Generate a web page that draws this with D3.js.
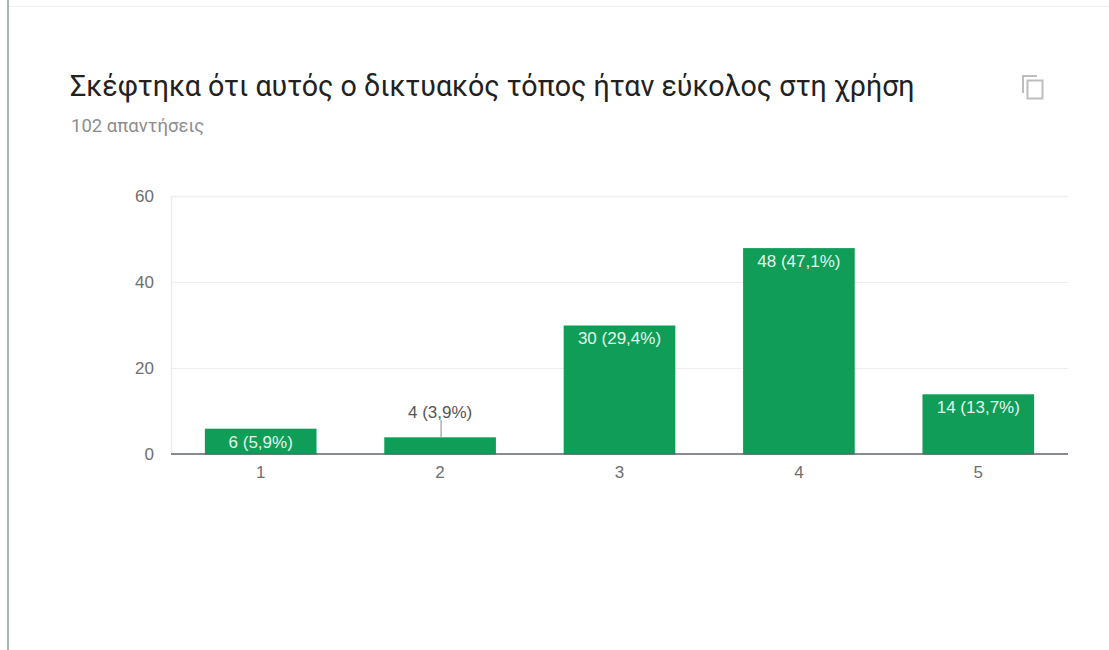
<!DOCTYPE html>
<html><head><meta charset="utf-8">
<script src="https://cdn.jsdelivr.net/npm/d3@7/dist/d3.min.js"></script>
<style>html,body{margin:0;padding:0;background:#fff;overflow:hidden}svg{display:block}text{font-family:Roboto,Arial,sans-serif}</style>
</head><body><svg id="c" width="1109" height="650"></svg>
<script>
const categories = ["1","2","3","4","5"];
const counts = [6,4,30,48,14];
const labels = ["6 (5,9%)","4 (3,9%)","30 (29,4%)","48 (47,1%)","14 (13,7%)"];
const yTicks = [0,20,40,60];
const titleText = "Σκέφτηκα ότι αυτός ο δικτυακός τόπος ήταν εύκολος στη χρήση";
const subtitleText = "102 απαντήσεις";

const svg = d3.select("#c");
const x = d3.scaleBand().domain(categories).range([171,1068]).paddingInner(0.3777).paddingOuter(0.1888);
const y = d3.scaleLinear().domain([0,60]).range([454.5,196.5]);

// card edges
svg.append("rect").attr("x",7).attr("y",0).attr("width",2).attr("height",650).attr("fill","#a9b5b2");
svg.append("rect").attr("x",9).attr("y",6).attr("width",1100).attr("height",1).attr("fill","#f1f1f1");

svg.append("text").attr("x",70).attr("y",96).attr("font-size",28.6).attr("fill","#212121").text(titleText);
svg.append("text").attr("x",71).attr("y",132).attr("font-size",18.5).attr("fill","#8d8d8d").text(subtitleText);

// copy icon
const icon = svg.append("g").attr("fill","none").attr("stroke","#bdbdbd").attr("stroke-width",2);
icon.append("path").attr("d","M1023 93V76H1037");
icon.append("rect").attr("x",1027.5).attr("y",80.5).attr("width",15).attr("height",18);

// grid
svg.append("g").selectAll("line").data(yTicks.filter(d=>d>0)).join("line")
  .attr("x1",171).attr("x2",1068).attr("y1",d=>y(d)).attr("y2",d=>y(d))
  .attr("stroke","#eeeeee").attr("stroke-width",d=>d===60?1.6:1.2);
svg.append("line").attr("x1",171.5).attr("x2",171.5).attr("y1",196).attr("y2",454).attr("stroke","#ececec").attr("stroke-width",1.4);

// y axis
const yAxis = d3.axisLeft(y).tickValues(yTicks).tickSize(0).tickPadding(17);
const ya = svg.append("g").attr("transform","translate(171,0)").call(yAxis);
ya.select(".domain").remove();
ya.selectAll("text").attr("font-size",17).attr("dy","0.3em").attr("fill","#6e6e6e").style("font-family","Arial,'Liberation Sans',sans-serif");

// bars
svg.append("g").selectAll("rect").data(categories).join("rect")
  .attr("x",d=>x(d)).attr("width",x.bandwidth())
  .attr("y",(d,i)=>y(counts[i])).attr("height",(d,i)=>y(0)-y(counts[i]))
  .attr("fill","#0f9d58");

// baseline
svg.append("line").attr("x1",171).attr("x2",1068).attr("y1",454).attr("y2",454).attr("stroke","#5f6368").attr("stroke-width",1.6);

// x axis
const xAxis = d3.axisBottom(x).tickSize(0).tickPadding(12);
const xa = svg.append("g").attr("transform","translate(0,454)").call(xAxis);
xa.select(".domain").remove();
xa.selectAll("text").attr("font-size",17).attr("fill","#6e6e6e").style("font-family","Arial,'Liberation Sans',sans-serif");

// data labels
const cx = d => x(d)+x.bandwidth()/2;
svg.append("g").selectAll("line").data(categories.filter((d,i)=>i===1)).join("line")
  .attr("x1",d=>cx(d)+1).attr("x2",d=>cx(d)+1)
  .attr("y1",420).attr("y2",d=>y(counts[categories.indexOf(d)]))
  .attr("stroke","#b0b0b0").attr("stroke-width",1.5);
svg.append("g").selectAll("text").data(categories).join("text")
  .attr("x",cx).attr("text-anchor","middle").attr("font-size",17)
  .style("font-family","Arial,'Liberation Sans',sans-serif")
  .attr("y",(d,i)=> i===1 ? 418 : y(counts[i])+ (i===0?19:18.5))
  .attr("fill",(d,i)=> i===1 ? "#555" : "#e4f5ec")
  .text((d,i)=>labels[i]);
</script></body></html>
